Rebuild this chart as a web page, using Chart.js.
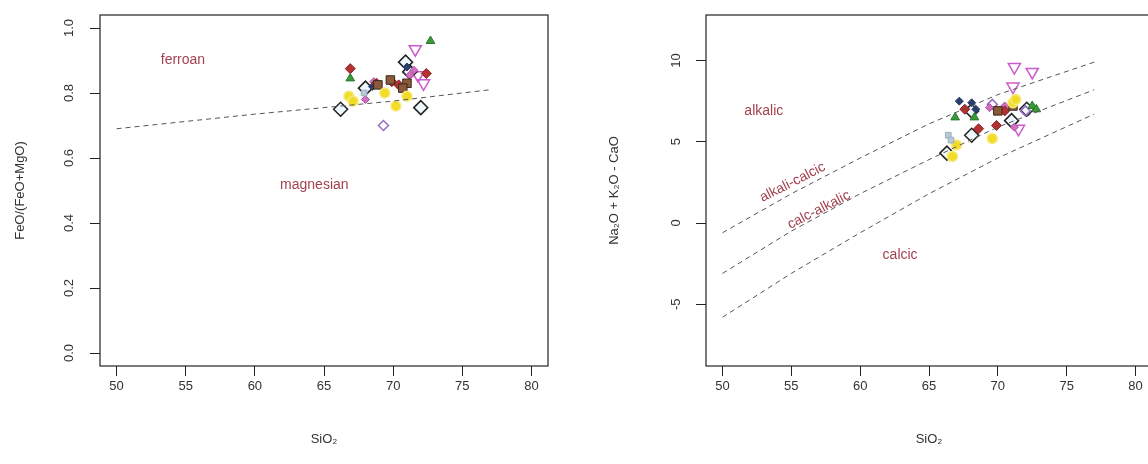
<!DOCTYPE html>
<html lang="en">
  <head>
    <meta charset="UTF-8" />
    <title>Fe-number and MALI diagrams</title>
    <script src="https://cdn.jsdelivr.net/npm/chart.js"></script>
    <style>
      html, body { margin: 0; padding: 0; background: #fff; overflow: hidden; width: 1148px; height: 464px; }
      .panel { position: absolute; top: 0; height: 464px; }
      #leftPanel { left: 0; width: 560px; }
      #rightPanel { left: 560px; width: 620px; }
    </style>
  </head>
  <body>
    <div id="leftPanel" class="panel"><canvas id="feChart"></canvas></div>
    <div id="rightPanel" class="panel"><canvas id="maliChart"></canvas></div>

    <script>
      // axis ticks
      const xTicks = [50, 55, 60, 65, 70, 75, 80];
      const feTicks = [0, 0.2, 0.4, 0.6, 0.8, 1.0];
      const maliTicks = [-5, 0, 5, 10];

      // boundary curves [SiO2, value]
      const ferroanLine = [[50, 0.69], [60, 0.735], [70, 0.775], [77, 0.81]];
      const alkalicLine = [[50, -0.6], [55, 1.8], [60, 4.0], [65, 6.1], [70, 7.9], [77, 9.9]];
      const alkaliCalcicLine = [[50, -3.1], [55, -0.5], [60, 1.8], [65, 3.9], [70, 5.9], [77, 8.2]];
      const calcAlkalicLine = [[50, -5.8], [55, -3.1], [60, -0.6], [65, 1.8], [70, 4.0], [77, 6.7]];

      // samples: FeO/(FeO+MgO) vs SiO2
      const diamondFe = [[66.2, 0.75], [68.0, 0.815], [72.0, 0.755], [70.9, 0.895], [71.2, 0.865]];
      const yellowFe = [[66.8, 0.79], [69.4, 0.8], [71.0, 0.79], [70.2, 0.76], [67.1, 0.775]];
      const redFe = [[66.9, 0.875], [72.4, 0.86], [68.8, 0.83], [69.9, 0.835], [70.4, 0.825]];
      const greenFe = [[72.7, 0.96], [66.9, 0.845]];
      const invTriFe = [[71.6, 0.935], [72.2, 0.83], [71.8, 0.855]];
      const navyFe = [[68.5, 0.82], [71.0, 0.88]];
      const brownFe = [[71.0, 0.83], [69.8, 0.84], [68.9, 0.825], [70.7, 0.815]];
      const pinkFe = [[71.5, 0.87], [71.2, 0.855], [68.6, 0.835], [68.0, 0.78]];
      const lilacFe = [[69.3, 0.7]];
      const paleFe = [[67.9, 0.8]];

      // samples: Na2O+K2O-CaO vs SiO2
      const diamondMali = [[66.3, 4.3], [68.1, 5.4], [68.1, 6.9], [71.0, 6.3], [72.1, 7.0]];
      const yellowMali = [[66.7, 4.1], [67.0, 4.8], [69.6, 5.2], [71.1, 7.4], [71.3, 7.6]];
      const redMali = [[68.6, 5.8], [69.9, 6.0], [70.5, 6.9], [67.6, 7.0]];
      const greenMali = [[66.9, 6.5], [68.3, 6.5], [72.5, 7.2], [72.8, 7.0]];
      const invTriMali = [[71.2, 9.6], [72.5, 9.3], [71.1, 8.4], [71.5, 5.8]];
      const navyMali = [[67.2, 7.5], [68.1, 7.4], [68.4, 7.0]];
      const brownMali = [[71.1, 7.2], [70.0, 6.9]];
      const pinkMali = [[69.4, 7.1], [70.5, 7.2], [71.2, 5.9]];
      const lilacMali = [[72.0, 6.9], [69.6, 7.3]];
      const paleMali = [[66.4, 5.4], [66.6, 5.1]];

      const FONT = "'Liberation Sans', Arial, sans-serif";
      const INK = "#333";
      const NOTE = "#a3414f";

      const toXY = (arr) => arr.map((p) => ({ x: p[0], y: p[1] }));

      const styles = {
        diamond: { pointStyle: "rectRot", pointRadius: 7, backgroundColor: "rgba(210,235,245,0.35)", borderColor: "#222", pointBorderWidth: 1.5 },
        yellow: { pointStyle: "circle", pointRadius: 5, backgroundColor: "#f2dc2a", borderColor: "#f7ea7a", pointBorderWidth: 1.5 },
        red: { pointStyle: "rectRot", pointRadius: 5, backgroundColor: "#b53030", borderColor: "#8a2222", pointBorderWidth: 1 },
        green: { pointStyle: "triangle", pointRadius: 5, backgroundColor: "#3a9a3a", borderColor: "#2a7a2a", pointBorderWidth: 1 },
        invTri: { pointStyle: "triangle", rotation: 180, pointRadius: 7, backgroundColor: "rgba(255,255,255,0)", borderColor: "#cc5acc", pointBorderWidth: 1.5 },
        navy: { pointStyle: "rectRot", pointRadius: 4, backgroundColor: "#2b3d6b", borderColor: "#2b3d6b", pointBorderWidth: 1 },
        brown: { pointStyle: "rect", pointRadius: 6, backgroundColor: "#8b5a3a", borderColor: "#3a2a1a", pointBorderWidth: 1 },
        pink: { pointStyle: "rectRot", pointRadius: 4, backgroundColor: "#d070c0", borderColor: "#b050a0", pointBorderWidth: 1 },
        lilac: { pointStyle: "rectRot", pointRadius: 5, backgroundColor: "rgba(255,255,255,0)", borderColor: "#9a6ac8", pointBorderWidth: 1.5 },
        pale: { pointStyle: "rect", pointRadius: 4, backgroundColor: "#b8cad8", borderColor: "#9ab0c0", pointBorderWidth: 1 },
      };

      function pointSet(label, arr, style) {
        return Object.assign({ label: label, data: toXY(arr), showLine: false }, styles[style]);
      }

      function lineSet(label, arr) {
        return {
          label: label,
          data: toXY(arr),
          showLine: true,
          borderColor: "#555",
          borderWidth: 1,
          borderDash: [5, 4],
          pointRadius: 0,
          fill: false,
        };
      }

      const frame = {
        id: "frame",
        beforeDatasetsDraw(chart) {
          const { ctx, chartArea: a } = chart;
          ctx.save();
          ctx.strokeStyle = "#222";
          ctx.lineWidth = 1.2;
          ctx.strokeRect(a.left, a.top, a.right - a.left, a.bottom - a.top);
          ctx.restore();
        },
      };

      const notes = {
        id: "notes",
        afterDatasetsDraw(chart, args, opts) {
          const { ctx } = chart;
          const x = chart.scales.x;
          const y = chart.scales.y;
          (opts.items || []).forEach((n) => {
            ctx.save();
            ctx.translate(x.getPixelForValue(n.x), y.getPixelForValue(n.y));
            ctx.rotate((-(n.angle || 0) * Math.PI) / 180);
            ctx.font = "14px " + FONT;
            ctx.fillStyle = NOTE;
            ctx.textAlign = "center";
            ctx.textBaseline = "middle";
            ctx.fillText(n.text, 0, 0);
            ctx.restore();
          });
        },
      };

      function makeScales(yMin, yMax, yTickList, yFmt, yTitle, yWidth, yTitlePad) {
        return {
          x: {
            type: "linear",
            min: 48.8,
            max: 81.2,
            afterBuildTicks: (s) => { s.ticks = xTicks.map((v) => ({ value: v })); },
            afterFit: (s) => { s.height = 98; s.paddingLeft = 0; s.paddingRight = 0; },
            grid: { display: true, drawOnChartArea: false, drawTicks: true, tickLength: 10, color: "#222" },
            border: { display: false },
            ticks: { color: INK, font: { family: FONT, size: 13 }, padding: 3, maxRotation: 0, minRotation: 0, callback: (v) => String(v) },
            title: { display: true, text: "SiO\u2082", color: INK, font: { family: FONT, size: 13 }, padding: { top: 0, bottom: 17 } },
          },
          y: {
            type: "linear",
            min: yMin,
            max: yMax,
            afterBuildTicks: (s) => { s.ticks = yTickList.map((v) => ({ value: v })); },
            afterFit: (s) => { s.width = yWidth; s.paddingTop = 0; s.paddingBottom = 0; },
            grid: { display: true, drawOnChartArea: false, drawTicks: true, tickLength: 10, color: "#222" },
            border: { display: false },
            ticks: { color: INK, font: { family: FONT, size: 13 }, padding: 12, minRotation: 90, maxRotation: 90, crossAlign: "center", callback: yFmt },
            title: { display: true, text: yTitle, color: INK, font: { family: FONT, size: 13 }, padding: { top: yTitlePad, bottom: 0 } },
          },
        };
      }

      const commonOpts = {
        responsive: true,
        maintainAspectRatio: false,
        animation: false,
        events: [],
      };

      new Chart(document.getElementById("feChart"), {
        type: "scatter",
        data: {
          datasets: [
            lineSet("ferroan / magnesian", ferroanLine),
            pointSet("lilac", lilacFe, "lilac"),
            pointSet("pale", paleFe, "pale"),
            pointSet("yellow", yellowFe, "yellow"),
            pointSet("brown", brownFe, "brown"),
            pointSet("red", redFe, "red"),
            pointSet("green", greenFe, "green"),
            pointSet("navy", navyFe, "navy"),
            pointSet("pink", pinkFe, "pink"),
            pointSet("diamond", diamondFe, "diamond"),
            pointSet("invTri", invTriFe, "invTri"),
          ],
        },
        options: Object.assign({}, commonOpts, {
          layout: { padding: { left: 0, right: 12, top: 15, bottom: 0 } },
          plugins: {
            legend: { display: false },
            tooltip: { enabled: false },
            notes: {
              items: [
                { x: 54.8, y: 0.9, text: "ferroan" },
                { x: 64.3, y: 0.515, text: "magnesian" },
              ],
            },
          },
          scales: makeScales(-0.04, 1.04, feTicks, (v) => v.toFixed(1), "FeO/(FeO+MgO)", 100, 13),
        }),
        plugins: [frame, notes],
      });

      new Chart(document.getElementById("maliChart"), {
        type: "scatter",
        data: {
          datasets: [
            lineSet("alkalic / alkali-calcic", alkalicLine),
            lineSet("alkali-calcic / calc-alkalic", alkaliCalcicLine),
            lineSet("calc-alkalic / calcic", calcAlkalicLine),
            pointSet("pale", paleMali, "pale"),
            pointSet("yellow", yellowMali, "yellow"),
            pointSet("brown", brownMali, "brown"),
            pointSet("red", redMali, "red"),
            pointSet("green", greenMali, "green"),
            pointSet("navy", navyMali, "navy"),
            pointSet("pink", pinkMali, "pink"),
            pointSet("lilac", lilacMali, "lilac"),
            pointSet("diamond", diamondMali, "diamond"),
            pointSet("invTri", invTriMali, "invTri"),
          ],
        },
        options: Object.assign({}, commonOpts, {
          layout: { padding: { left: 0, right: 28, top: 15, bottom: 0 } },
          plugins: {
            legend: { display: false },
            tooltip: { enabled: false },
            notes: {
              items: [
                { x: 53.0, y: 6.9, text: "alkalic" },
                { x: 55.1, y: 2.5, text: "alkali-calcic", angle: 27 },
                { x: 57.0, y: 0.8, text: "calc-alkalic", angle: 27 },
                { x: 62.9, y: -2.0, text: "calcic" },
              ],
            },
          },
          scales: makeScales(-8.8, 12.8, maliTicks, (v) => String(v), "Na\u2082O + K\u2082O - CaO", 146, 47),
        }),
        plugins: [frame, notes],
      });
    </script>
  </body>
</html>
